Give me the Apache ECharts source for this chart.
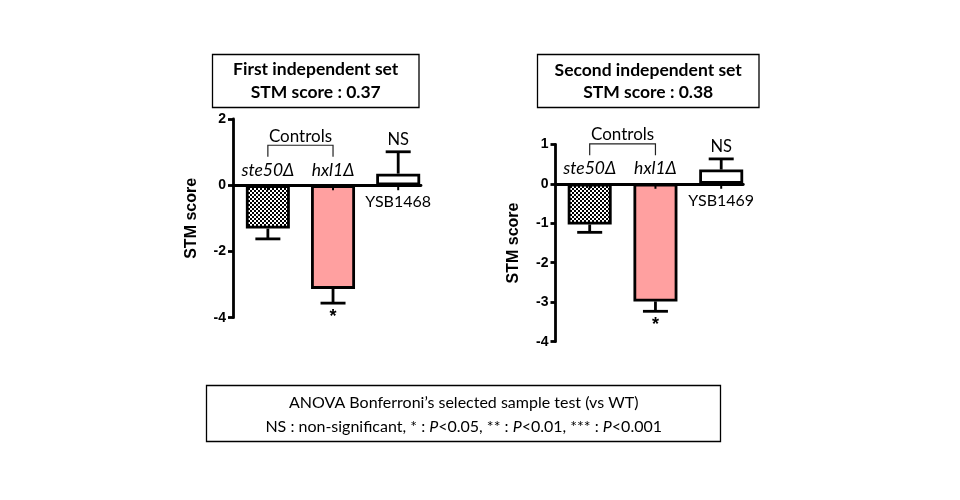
<!DOCTYPE html>
<html>
<head>
<meta charset="utf-8">
<script src="https://cdn.jsdelivr.net/npm/echarts@6/dist/echarts.min.js"></script>
<style>
  html, body { margin: 0; padding: 0; background: #fff; }
  #chart { width: 960px; height: 500px; }
</style>
</head>
<body>
<div id="chart"></div>
<script>
// first independent set
const strains1 = ['ste50Δ', 'hxl1Δ', 'YSB1468']
const scores1 = [-1.31, -3.13, 0.35]
const sem1 = [0.31, 0.43, 0.66]
const marks1 = ['', '*', 'NS']
const yTicks1 = [-4, -2, 0, 2]

// second independent set
const strains2 = ['ste50Δ', 'hxl1Δ', 'YSB1469']
const scores2 = [-1.03, -2.98, 0.36]
const sem2 = [0.20, 0.25, 0.27]
const marks2 = ['', '*', 'NS']
const yTicks2 = [-4, -3, -2, -1, 0, 1]

const titles1 = ['First independent set', 'STM score : 0.37']
const titles2 = ['Second independent set', 'STM score : 0.38']
const noteLines = ['ANOVA Bonferroni\u2019s selected sample test (vs WT)',
  'NS : non-significant, * : {i|P}<0.05, ** : {i|P}<0.01, *** : {i|P}<0.001']

const CAL = 'Lato, "Open Sans", sans-serif'
const ARIAL = '"Liberation Sans", Arial, sans-serif'
const LW = 2.8

// checker pattern for the ste50 bar
function checker() {
  const c = document.createElement('canvas')
  c.width = 4
  c.height = 4
  const ctx = c.getContext('2d')
  ctx.fillStyle = '#fff'
  ctx.fillRect(0, 0, 4, 4)
  ctx.fillStyle = '#000'
  ctx.fillRect(0, 0, 2, 2)
  ctx.fillRect(2, 2, 2, 2)
  return { image: c, repeat: 'repeat' }
}
const fills = [checker(), '#FFA0A0', '#FFFFFF']

function yAxisOf(idx, ticks) {
  return {
    type: 'value',
    gridIndex: idx,
    min: ticks[0],
    max: ticks[ticks.length - 1],
    interval: ticks[1] - ticks[0],
    name: 'STM score',
    nameLocation: 'middle',
    nameRotate: 90,
    nameGap: idx === 0 ? 33 : 34,
    nameTextStyle: { fontFamily: ARIAL, fontWeight: 'bold', fontSize: 16, color: '#000' },
    axisLine: { show: true, onZero: false, lineStyle: { color: '#000', width: LW } },
    axisTick: { show: true, length: 5, lineStyle: { color: '#000', width: LW } },
    axisLabel: { fontFamily: ARIAL, fontWeight: 'bold', fontSize: 14, color: '#000', margin: 7 },
    splitLine: { show: false }
  }
}

function xAxisOf(idx, min, max) {
  return {
    type: 'value',
    gridIndex: idx,
    min: min,
    max: max,
    axisLine: { show: true, onZero: true, lineStyle: { color: '#000', width: LW } },
    axisTick: { show: false },
    axisLabel: { show: false },
    splitLine: { show: false }
  }
}

function barSeries(idx, scores) {
  return {
    type: 'bar',
    xAxisIndex: idx,
    yAxisIndex: idx,
    barWidth: 44,
    z: 2,
    data: scores.map((v, i) => ({
      value: [i, v],
      itemStyle: { color: fills[i], borderColor: '#000', borderWidth: LW }
    }))
  }
}

// error bars, strain names, significance marks, controls bracket
function annotate(strains, scores, sem, marks) {
  return function (params, api) {
    const i = params.dataIndex
    const base = api.coord([i, 0])
    const end = api.coord([i, scores[i]])
    const down = scores[i] < 0
    const tip = api.coord([i, scores[i] + (down ? -sem[i] : sem[i])])
    const black = { stroke: '#000', lineWidth: LW }
    const kids = [
      { type: 'line', shape: { x1: end[0], y1: end[1], x2: tip[0], y2: tip[1] }, style: black },
      { type: 'line', shape: { x1: tip[0] - 12.5, y1: tip[1], x2: tip[0] + 12.5, y2: tip[1] }, style: black },
      { type: 'line', shape: { x1: base[0], y1: base[1], x2: base[0], y2: base[1] + 5 }, style: { stroke: '#000', lineWidth: 2 } },
      {
        type: 'text',
        style: {
          text: strains[i], x: base[0], y: down ? base[1] - 15 : base[1] + 17,
          font: (down ? 'italic 17.5px ' : '16px ') + CAL, fill: '#000',
          align: 'center', verticalAlign: 'middle'
        }
      }
    ]
    if (marks[i]) {
      kids.push({
        type: 'text',
        style: {
          text: marks[i], x: tip[0], y: down ? tip[1] + 14 : tip[1] - 12,
          font: (marks[i] === '*' ? 'bold 18px ' + ARIAL : '16.5px ' + CAL), fill: '#000',
          align: 'center', verticalAlign: 'middle'
        }
      })
    }
    if (i === 0) {
      const next = api.coord([1, 0])
      const thin = { stroke: '#222', lineWidth: 1.2, fill: null }
      kids.push({
        type: 'polyline',
        shape: { points: [[base[0], base[1] - 28.5], [base[0], base[1] - 40], [next[0], base[1] - 40], [next[0], base[1] - 28.5]] },
        style: thin
      })
      kids.push({
        type: 'text',
        style: {
          text: 'Controls', x: (base[0] + next[0]) / 2, y: base[1] - 49,
          font: '17px ' + CAL, fill: '#000', align: 'center', verticalAlign: 'middle'
        }
      })
    }
    return { type: 'group', children: kids }
  }
}

function annoSeries(idx, strains, scores, sem, marks) {
  return {
    type: 'custom',
    xAxisIndex: idx,
    yAxisIndex: idx,
    z: 5,
    renderItem: annotate(strains, scores, sem, marks),
    data: scores.map((v, i) => [i, v])
  }
}

function box(x, y, w, h, lines, cx, ys, font) {
  const els = [{
    type: 'rect',
    shape: { x: x, y: y, width: w, height: h },
    style: { fill: '#fff', stroke: '#000', lineWidth: 1.3 }
  }]
  lines.forEach((t, k) => {
    els.push({
      type: 'text',
      style: {
        text: t, x: cx, y: ys[k], font: font, fill: '#000',
        align: 'center', verticalAlign: 'middle',
        rich: { i: { fontStyle: 'italic', fontFamily: CAL, fontSize: 16 } }
      }
    })
  })
  return els
}

const chart = echarts.init(document.getElementById('chart'), null, { renderer: 'canvas' })

const option = {
  backgroundColor: '#fff',
  animation: false,
  grid: [
    { left: 233, top: 119, width: 188, height: 198.7 },
    { left: 555.5, top: 144.3, width: 187.8, height: 197.4 }
  ],
  xAxis: [xAxisOf(0, -0.535, 2.35), xAxisOf(1, -0.52, 2.336)],
  yAxis: [yAxisOf(0, yTicks1), yAxisOf(1, yTicks2)],
  series: [
    barSeries(0, scores1),
    barSeries(1, scores2),
    annoSeries(0, strains1, scores1, sem1, marks1),
    annoSeries(1, strains2, scores2, sem2, marks2)
  ],
  graphic: [].concat(
    box(212.5, 54.5, 206.5, 53, titles1, 315.7, [69.5, 92.5], 'bold 17.5px ' + CAL),
    box(537.5, 54.5, 221.5, 53, titles2, 648.2, [70, 92.5], 'bold 17.5px ' + CAL),
    box(206.5, 385.5, 514, 56, noteLines, 463.7, [402.7, 426.7], '16px ' + CAL)
  )
}

chart.setOption(option)
</script>
</body>
</html>
